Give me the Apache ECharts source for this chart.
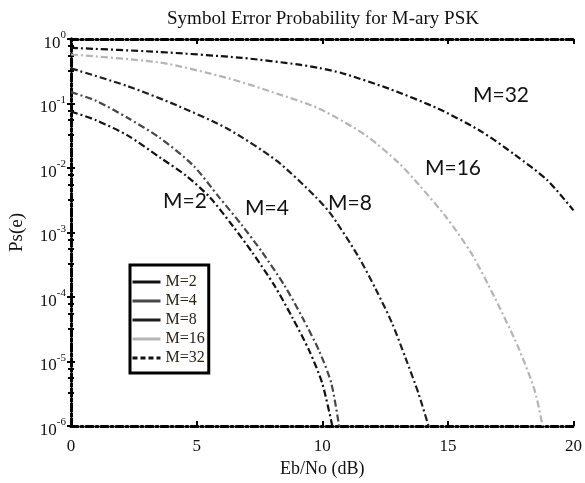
<!DOCTYPE html>
<html><head><meta charset="utf-8">
<script src="https://cdn.jsdelivr.net/npm/echarts@6/dist/echarts.min.js"></script>
<style>html,body{margin:0;padding:0;background:#fff}#c{width:585px;height:483px}</style>
</head><body><div id="c"></div>
<script>
var seriesNames = ['M=2', 'M=4', 'M=8', 'M=16', 'M=32'];
var ebno_M2 = [0, 1, 2.25, 3.56, 4.6, 5.53, 6.44, 7.2, 8.1, 8.81, 9.49, 10.0, 10.4];
var ps_M2   = [0.075, 0.055, 0.032, 0.0144, 0.0075, 0.0035, 1.26e-3, 5.0e-4, 1.5e-4, 4.8e-5, 1.45e-5, 4.6e-6, 1e-6];
var ebno_M4 = [0, 1, 2.25, 3.5, 4.86, 5.9, 6.8, 7.6, 8.5, 9.21, 9.88, 10.36, 10.67];
var ps_M4   = [0.15, 0.11, 0.06, 0.03, 0.011, 3.5e-3, 1.3e-3, 5.0e-4, 1.5e-4, 4.8e-5, 1.45e-5, 4.6e-6, 1e-6];
var ebno_M8 = [0, 2.25, 4.23, 6.21, 8.18, 9.76, 10.4, 11.46, 12.13, 12.77, 13.32, 13.83, 14.23];
var ps_M8   = [0.35, 0.186, 0.093, 0.041, 0.013, 3.5e-3, 1.8e-3, 4.1e-4, 1.32e-4, 4.0e-5, 1.12e-5, 3.2e-6, 1e-6];
var ebno_M16 = [0, 3.56, 6.2, 8.0, 9.88, 11.74, 13.04, 13.83, 14.9, 15.93, 16.88, 17.79, 18.46, 18.77];
var ps_M16   = [0.575, 0.43, 0.25, 0.151, 0.083, 0.032, 0.012, 0.0056, 1.8e-3, 4.8e-4, 9.5e-5, 1.7e-5, 3.5e-6, 1e-6];
var ebno_M32 = [0, 3.5, 6.8, 9.09, 9.88, 10.79, 12.65, 14.62, 16.32, 17.67, 18.97, 20];
var ps_M32   = [0.73, 0.63, 0.51, 0.40, 0.355, 0.295, 0.17, 0.083, 0.037, 0.016, 6.4e-3, 2.2e-3];
var xTicks = [0, 5, 10, 15, 20];
var annotationTexts = ['M=2', 'M=4', 'M=8', 'M=16', 'M=32'];

var xs = [ebno_M2, ebno_M4, ebno_M8, ebno_M16, ebno_M32];
var ys = [ps_M2, ps_M4, ps_M8, ps_M16, ps_M32];
var colors = ['#111111', '#474747', '#1e1e1e', '#b5b5b5', '#111111'];
var dashDot = [7, 3, 2, 3];

function pairs(a, b) { return a.map(function (v, i) { return [v, b[i]]; }); }

var serif = '"Liberation Serif", "DejaVu Serif", serif';
var border = { show: true, lineStyle: { color: '#000', width: 3, type: dashDot } };
var annFont = '21px Lato, "Open Sans", sans-serif';

var chart = echarts.init(document.getElementById('c'), null, { renderer: 'canvas' });
var option = {
  animation: false,
  backgroundColor: '#fff',
  title: {
    text: 'Symbol Error Probability for M-ary PSK',
    left: 318, top: 5, textAlign: 'center',
    textStyle: { fontFamily: serif, fontSize: 19, fontWeight: 'normal', color: '#111' }
  },
  grid: { left: 70, right: 10, top: 39, bottom: 50 },
  legend: {
    orient: 'vertical', left: 130, top: 265,
    padding: [9, 4, 7, 1],
    itemWidth: 28, itemHeight: 14, itemGap: 3, itemTextGap: 1,
    borderColor: '#000', borderWidth: 3,
    backgroundColor: '#fff',
    textStyle: { fontFamily: serif, fontSize: 16, color: '#2a2418' },
    data: seriesNames.map(function (n, i) {
      return {
        name: n,
        itemStyle: { opacity: 0 },
        lineStyle: { color: colors[i], width: 3, type: i === 4 ? [5, 3] : 'solid' }
      };
    })
  },
  xAxis: [{
    type: 'value', min: 0, max: 20, interval: 5,
    name: 'Eb/No (dB)', nameLocation: 'middle', nameGap: 34,
    nameTextStyle: { fontFamily: serif, fontSize: 18, color: '#111' },
    axisLine: border,
    axisTick: { show: true, inside: true, length: 5, lineStyle: { color: '#000', width: 2 } },
    axisLabel: { fontFamily: serif, fontSize: 17, color: '#111', margin: 12,
      formatter: function (v) { return xTicks.indexOf(v) >= 0 ? String(v) : ''; } },
    splitLine: { show: false }
  }, {
    type: 'value', min: 0, max: 20, interval: 5, position: 'top',
    axisLine: border,
    axisTick: { show: true, inside: true, length: 5, lineStyle: { color: '#000', width: 2 } },
    axisLabel: { show: false }, splitLine: { show: false }
  }],
  yAxis: [{
    type: 'log', logBase: 10, min: 1e-6, max: 1,
    name: 'Ps(e)', nameLocation: 'middle', nameGap: 44, nameRotate: 90,
    nameTextStyle: { fontFamily: serif, fontSize: 19, color: '#111' },
    axisLine: border,
    axisTick: { show: true, inside: true, length: 4, lineStyle: { color: '#000', width: 2 } },
    minorTick: { show: true, splitNumber: 4, length: 3, lineStyle: { color: '#000', width: 2 } },
    axisLabel: {
      margin: 5,
      formatter: function (v) {
        var e = Math.round(Math.log10(v));
        return '{b|10}{s|' + e + '}';
      },
      rich: {
        b: { fontFamily: serif, fontSize: 17, color: '#111', padding: [9, 0, 0, 0] },
        s: { fontFamily: serif, fontSize: 11, color: '#111', padding: [0, 0, 7, 0] }
      }
    },
    splitLine: { show: false }
  }, {
    type: 'log', logBase: 10, min: 1e-6, max: 1, position: 'right',
    axisLine: border,
    axisTick: { show: true, inside: true, length: 4, lineStyle: { color: '#000', width: 2 } },
    minorTick: { show: true, splitNumber: 4, length: 3, lineStyle: { color: '#000', width: 2 } },
    axisLabel: { show: false }, splitLine: { show: false }
  }],
  series: seriesNames.map(function (n, i) {
    return {
      name: n, type: 'line', xAxisIndex: 0, yAxisIndex: 0,
      data: pairs(xs[i], ys[i]), smooth: 0.25,
      showSymbol: false, symbol: 'none',
      lineStyle: { color: colors[i], width: 2.2, type: dashDot },
      itemStyle: { color: colors[i] }, z: 3
    };
  }),
  graphic: [
    { type: 'text', left: 163, top: 191, style: { text: annotationTexts[0], font: annFont, fill: '#111' } },
    { type: 'text', left: 245, top: 198, style: { text: annotationTexts[1], font: annFont, fill: '#111' } },
    { type: 'text', left: 328, top: 193, style: { text: annotationTexts[2], font: annFont, fill: '#111' } },
    { type: 'text', left: 425, top: 158, style: { text: annotationTexts[3], font: annFont, fill: '#111' } },
    { type: 'text', left: 473, top: 85, style: { text: annotationTexts[4], font: annFont, fill: '#111' } }
  ]
};
chart.setOption(option);
</script>
</body></html>
